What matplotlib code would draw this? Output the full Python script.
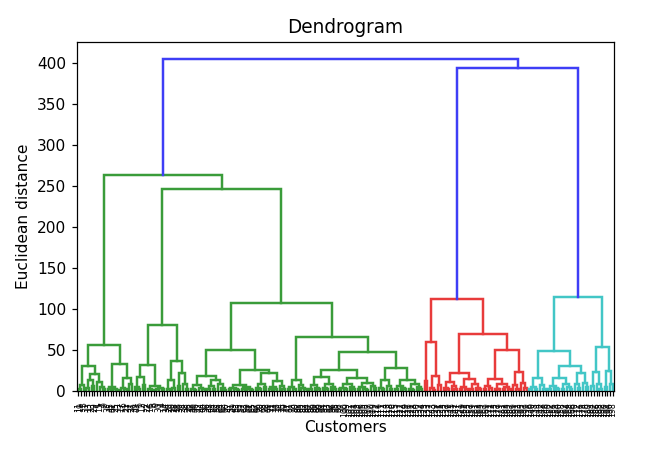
import matplotlib
matplotlib.use("Agg")
import matplotlib.pyplot as plt

o = None  # a single customer (leaf)

# ---- tree data: [merge height, left subtree, right subtree] ----
# green group
AL1 = [7, [2, o, o], o]
AL2 = [21, [13, [4, o, o], [6, o, o]], [11, o, [5, o, [2, o, o]]]]
AR1 = [5, [2, o, o], [3, o, [1, o, o]]]
AR2 = [16, [4, o, [2, o, o]], [8, o, o]]
A = [56, [30, AL1, AL2], [33, AR1, AR2]]

CLL = [17, [5, o, [2, o, o]], [7, o, o]]
CLR = [6, [3, o, [1, o, o]], [4, [2, o, o], [2, o, o]]]
CRL = [13, [3, o, o], [4, o, o]]
CRR = [22, [6, o, o], [9, o, [3, o, o]]]
C = [80, [32, CLL, CLR], [36, CRL, CRR]]

ELL = [7, [3, o, [1, o, o]], [4, o, [2, o, o]]]
ELR = [14, [6, [2, o, o], [3, o, o]], [8, o, [4, o, [1, o, o]]]]
ERL = [7, [4, [2, o, o], [3, o, [1, o, o]]], [5, [2, o, o], [3, o, [1, o, o]]]]
ERR = [22, [9, [4, o, [2, o, o]], [5, o, o]], [12, [5, [2, o, o], [3, o, o]], [6, o, [3, o, o]]]]
E = [50, [18, ELL, ELR], [26, ERL, ERR]]

F1 = [13, [5, [2, o, o], [3, o, o]], [7, o, [4, o, [2, o, o]]]]
G1L = [17, [7, [3, o, o], [4, o, [2, o, o]]], [9, [4, o, [2, o, o]], [5, o, [2, o, o]]]]
G1R = [16, [8, [4, [2, o, o], [3, o, o]], [5, o, [2, o, o]]],
       [10, [5, [2, o, o], [3, o, [1, o, o]]], [6, o, [4, o, o]]]]
G2L = [13, [4, o, [2, o, o]], [6, o, [3, o, o]]]
G2R = [14, [6, [3, o, o], [4, o, [2, o, o]]], [8, [3, o, [1, o, o]], [5, o, [3, o, o]]]]
G = [48, [25, G1L, G1R], [28, G2L, G2R]]
F = [66, F1, G]
D = [107, E, F]
B = [246, C, D]
GREEN = [263, A, B]

# red group
R1 = [60, [12, o, o], [18, [4, o, [1, o, o]], [7, o, o]]]
R2A = [22, [11, [4, o, [2, o, o]], [6, o, [3, o, o]]],
       [15, [5, [2, o, o], [3, o, o]], [8, [3, o, o], [4, o, [2, o, o]]]]]
R2B1 = [15, [6, [2, o, o], [4, o, o]], [9, [3, o, [2, o, o]], [5, [2, o, o], [3, o, o]]]]
R2B2 = [23, [7, o, [3, o, o]], [10, o, [4, o, o]]]
RED = [112, R1, [69, R2A, [50, R2B1, R2B2]]]

# cyan group
C1A = [16, [5, [2, o, o], [3, o, o]], [7, o, [3, o, o]]]
C1BL = [16, [6, [2, o, o], [4, o, [2, o, o]]], [9, [3, o, o], [5, o, [2, o, o]]]]
C1BR = [22, [8, o, [4, o, o]], [10, o, [5, o, o]]]
C2A = [23, [6, o, o], [9, o, [3, o, o]]]
C2B = [24, [5, o, o], [8, o, o]]
CYAN = [114, [49, C1A, [31, C1BL, C1BR]], [54, C2A, C2B]]

ROOT = [405, GREEN, [393, RED, CYAN]]

# leaf labels (customer indices), left to right
leaf_labels = [
    11, 19, 3, 31, 13, 23, 29, 1, 15, 7, 9, 35, 45, 41, 25, 33, 17, 5, 21, 37, 27,
    39, 43, 6, 12, 2, 22, 16, 8, 0, 30, 4, 14, 34, 20, 10, 28, 18, 36, 24, 38, 26,
    32, 40, 46, 42, 44, 50, 56, 48, 54, 52, 58, 64, 62, 60, 47, 51, 49, 53, 55, 57,
    63, 59, 61, 65, 67, 66, 70, 68, 72, 69, 71, 73, 76, 74, 75, 79, 77, 81, 78, 80,
    83, 85, 82, 84, 87, 86, 89, 88, 90, 94, 91, 93, 92, 96, 95, 98, 97, 100, 99, 102,
    101, 104, 103, 106, 105, 108, 107, 110, 109, 112, 116, 111, 114, 113, 118, 120,
    115, 117, 122, 124, 119, 126, 121, 128, 130, 132, 134,
    123, 133, 127, 143, 129, 131, 125, 135, 137, 139, 145, 141, 147, 151, 149, 153,
    155, 157, 159, 161, 163, 165, 167, 169, 171, 173, 175, 177, 179, 181, 183, 185,
    187, 189, 191, 193, 195, 197, 199,
    136, 140, 138, 144, 142, 148, 146, 150, 152, 156, 154, 160, 158, 162, 164, 168,
    166, 170, 172, 176, 174, 178, 180, 184, 182, 186, 188, 192, 190, 194, 196, 198,
]

group_colors = ["#3a9c3a", "#e83b3b", "#42c6c6"]
above_color = "#3e3ef6"

fig = plt.figure(figsize=(6.0, 451 / 111), dpi=111)
ax = fig.add_axes([77 / 666, 60 / 451, (614 - 77) / 666, (391 - 42) / 451])

state = {"leaf": 0, "grp": 0}
leaf_x = []
top_h = ROOT[0]
threshold = 0.7 * top_h


def draw(node, color):
    if node is None:
        x = 5 + 10 * state["leaf"]
        state["leaf"] += 1
        leaf_x.append(x)
        return x, 0.0
    h, left, right = node
    if color is None and h < threshold:
        color = group_colors[state["grp"] % len(group_colors)]
        state["grp"] += 1
    xl, hl = draw(left, color)
    xr, hr = draw(right, color)
    c = color if color is not None else above_color
    ax.plot([xl, xl, xr, xr], [hl, h, h, hr], color=c, lw=1.6,
            solid_joinstyle="miter")
    return (xl + xr) / 2.0, h


draw(ROOT, None)
n = state["leaf"]
ax.set_xlim(0, 10 * n)
ax.set_ylim(0, top_h * 1.05)
ax.set_xticks(leaf_x)
ax.set_xticklabels([str(v) for v in leaf_labels[:n]], rotation=90, fontsize=5)
ax.set_yticks([0, 50, 100, 150, 200, 250, 300, 350, 400])
ax.tick_params(axis="y", labelsize=10)
ax.set_title("Dendrogram", fontsize=12)
ax.set_xlabel("Customers", fontsize=10, labelpad=2)
ax.set_ylabel("Euclidean distance", fontsize=10)

fig.savefig("out.png", dpi=111)
